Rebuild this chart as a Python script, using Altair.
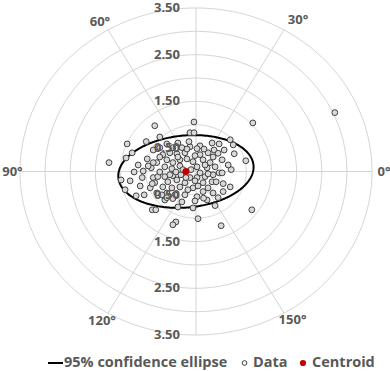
import numpy as np
import pandas as pd
import altair as alt

# Double-angle plot of astigmatism vectors (x = r*cos 2θ, y = r*sin 2θ), in diopters
data_x = [2.76, 1.13, -0.04, -0.82, -0.12, -0.04, -0.72, -1.37, -0.99, -0.58,
          0.68, 0.74, 0.46, -1.27, -1.39, -1.73, 0.76, 0.99, -0.97, -0.78,
          -1.05, 0.70, 0.08, 0.02, -0.12, -0.28, -0.46, -0.52, -0.38, -0.22,
          0.08, 0.24, 0.34, 0.14, 0.28, 0.38, 0.22, 0.02, -0.06, -0.18,
          -0.32, -0.46, -0.58, -0.66, -0.62, -0.48, -0.32, -0.10, 0.08, 0.46,
          0.52, 0.56, -0.85, -0.72, -0.89, 0.32, -0.14, -0.36, -0.95, -0.85,
          -0.62, -0.46, -0.30, -0.12, 0.02, 0.18, 0.34, -0.56, -0.38, -0.22,
          -0.02, 0.14, 0.32, -0.66, -0.48, -0.32, -0.06, 0.14, 0.34, -0.58,
          -0.42, -0.22, 0.02, -0.62, -0.46, -0.28, -0.02, 0.22, -0.36, -0.06,
          -0.87, -0.80, 1.11, -0.40, -0.46, 0.04, 0.50, 0.38, -1.19, -1.03,
          -1.41, -1.49, -1.07, -0.85, -0.82, -0.76, 0.54, 0.68, 0.54, 0.40,
          0.52, -0.78, -0.68, -0.58, -0.91, -1.11, -1.31, -0.16, 0.24, 0.44,
          -0.26, -0.40, 0.24, -0.72, -0.52, 0.04, -0.20, 0.18, -0.36, -0.02,
          0.36, -0.72, 0.64, -1.15, -1.23, -0.87, 0.15, -0.18, 0.16, 0.44]
data_y = [1.26, 1.04, 1.06, 0.98, 0.83, 0.83, 0.74, 0.59, 0.64, 0.59,
          0.68, 0.57, 0.59, 0.40, 0.29, 0.19, 0.38, 0.23, 0.27, 0.19,
          0.01, 0.04, 0.55, 0.49, 0.53, 0.51, 0.51, 0.40, 0.38, 0.40,
          0.36, 0.40, 0.31, 0.25, 0.19, 0.10, 0.08, 0.10, 0.21, 0.27,
          0.25, 0.19, 0.25, 0.36, 0.10, 0.06, 0.12, 0.04, -0.03, -0.03,
          0.25, 0.46, 0.46, 0.51, 0.08, 0.61, 0.64, 0.61, 0.12, 0.19,
          -0.11, -0.09, -0.07, -0.13, -0.13, -0.11, -0.07, -0.22, -0.18, -0.24,
          -0.20, -0.24, -0.22, -0.33, -0.35, -0.33, -0.35, -0.43, -0.46, -0.46,
          -0.50, -0.50, -0.54, -0.61, -0.58, -0.65, -0.63, -0.61, -0.76, -0.78,
          -0.82, -0.82, -0.82, -1.08, -1.14, -1.01, -1.16, -0.73, -0.52, -0.50,
          -0.39, -0.18, -0.13, -0.13, -0.24, -0.11, -0.43, -0.33, -0.26, -0.22,
          -0.03, -0.46, -0.50, -0.56, -0.35, -0.31, -0.20, -0.39, -0.35, -0.56,
          0.04, -0.01, -0.05, -0.01, -0.07, -0.31, -0.13, 0.14, 0.31, 0.34,
          0.46, 0.31, 0.14, 0.14, -0.01, -0.26, -0.57, 0.48, 0.48, 0.39]

centroid_x = [-0.20]
centroid_y = [0.00]

# 95% confidence ellipse: centre, semi-axes and tilt (degrees)
ellipse_center = [-0.20, 0.00]
ellipse_axes = [1.35, 0.77]
ellipse_tilt = [6.0]

# Polar grid
ring_radii = [0.5, 1.0, 1.5, 2.0, 2.5, 3.0, 3.5]
spoke_angles = [0, 60, 90, 120, 180, 240, 270, 300]
r_max = 3.5

radial_label_text = ["3.50", "2.50", "1.50", "0.50", "0.50", "1.50", "2.50", "3.50"]
radial_label_y = [3.5, 2.5, 1.5, 0.5, -0.5, -1.5, -2.5, -3.5]

angle_label_text = ["0°", "30°", "60°", "90°", "120°", "150°"]
angle_label_x = [3.74, 2.03, -1.91, -3.65, -1.87, 1.92]
angle_label_y = [0.0, 3.25, 3.21, 0.0, -3.21, -3.17]

legend_labels = ["95% confidence ellipse", "Data", "Centroid"]

FONT = "Open Sans"
GREY = "#595959"
GRID = "#d4d4d4"
RED = "#c00000"

# ---- frames ----
points = pd.DataFrame({"x": data_x, "y": data_y})
centroid = pd.DataFrame({"x": centroid_x, "y": centroid_y})

t = np.linspace(0, 2 * np.pi, 361)
rings = pd.concat([
    pd.DataFrame({"ring": r, "i": np.arange(len(t)), "x": r * np.cos(t), "y": r * np.sin(t)})
    for r in ring_radii
])

spokes = pd.DataFrame({
    "x": 0.0, "y": 0.0,
    "x2": [r_max * np.cos(np.radians(a)) for a in spoke_angles],
    "y2": [r_max * np.sin(np.radians(a)) for a in spoke_angles],
})

phi = np.radians(ellipse_tilt[0])
a, b = ellipse_axes
ellipse = pd.DataFrame({
    "i": np.arange(len(t)),
    "x": ellipse_center[0] + a * np.cos(t) * np.cos(phi) - b * np.sin(t) * np.sin(phi),
    "y": ellipse_center[1] + a * np.cos(t) * np.sin(phi) + b * np.sin(t) * np.cos(phi),
})

rad_labels = pd.DataFrame({"x": 0.0, "y": radial_label_y, "text": radial_label_text})
ang_labels = pd.DataFrame({"x": angle_label_x, "y": angle_label_y, "text": angle_label_text})

xs = alt.Scale(domain=[-r_max, r_max], nice=False, zero=False)
ys = alt.Scale(domain=[-r_max, r_max], nice=False, zero=False)
X = lambda f="x": alt.X(f"{f}:Q", scale=xs, axis=None)
Y = lambda f="y": alt.Y(f"{f}:Q", scale=ys, axis=None)

ring_layer = alt.Chart(rings).mark_line(color=GRID, strokeWidth=1).encode(
    x=X(), y=Y(), detail="ring:N", order="i:Q")

spoke_layer = alt.Chart(spokes).mark_rule(color=GRID, strokeWidth=1).encode(
    x=X(), y=Y(), x2="x2:Q", y2="y2:Q")

ellipse_layer = alt.Chart(ellipse).mark_line(color="black", strokeWidth=2).encode(
    x=X(), y=Y(), order="i:Q")

point_layer = alt.Chart(points).mark_point(
    shape="circle", filled=True, fill="#d9d9d9", stroke="#404040",
    strokeWidth=1, size=34, opacity=1, fillOpacity=1).encode(x=X(), y=Y())

centroid_layer = alt.Chart(centroid).mark_point(
    shape="circle", filled=True, color=RED, size=50, opacity=1).encode(x=X(), y=Y())

rad_text = alt.Chart(rad_labels).mark_text(
    font=FONT, fontWeight="bold", fontSize=13, color=GREY, align="right",
    baseline="middle", dx=-16).encode(x=X(), y=Y(), text="text:N")

ang_text = alt.Chart(ang_labels).mark_text(
    font=FONT, fontWeight="bold", fontSize=13, color=GREY, align="center",
    baseline="middle").encode(x=X(), y=Y(), text="text:N")

# ---- legend row ----
LEG_Y = 355
leg_df = pd.DataFrame({"label": legend_labels})
leg_line = alt.Chart(leg_df.iloc[[0]]).mark_rule(color="black", strokeWidth=2).encode(
    x=alt.value(28), x2=alt.value(43), y=alt.value(LEG_Y))
leg_data_sym = alt.Chart(leg_df.iloc[[1]]).mark_point(
    shape="circle", filled=True, fill="white", stroke="#404040", strokeWidth=1,
    size=22, opacity=1).encode(x=alt.value(224.5), y=alt.value(LEG_Y))
leg_cen_sym = alt.Chart(leg_df.iloc[[2]]).mark_point(
    shape="circle", filled=True, color=RED, size=38, opacity=1).encode(
    x=alt.value(283), y=alt.value(LEG_Y))

def leg_text(row, xpos):
    return alt.Chart(leg_df.iloc[[row]]).mark_text(
        font=FONT, fontWeight="bold", fontSize=14.5, color=GREY, align="left",
        baseline="middle").encode(x=alt.value(xpos), y=alt.value(LEG_Y), text="label:N")

chart = alt.layer(
    ring_layer, spoke_layer, ellipse_layer, point_layer, centroid_layer,
    rad_text, ang_text,
    leg_line, leg_text(0, 44), leg_data_sym, leg_text(1, 233), leg_cen_sym, leg_text(2, 292),
).properties(
    width=352, height=327,
    autosize=alt.AutoSizeParams(type="none"),
    padding={"left": 20, "top": 8, "right": 18, "bottom": 36},
).configure_view(stroke=None)

chart.save("out.html", embed_options={"renderer": "svg", "actions": False})
